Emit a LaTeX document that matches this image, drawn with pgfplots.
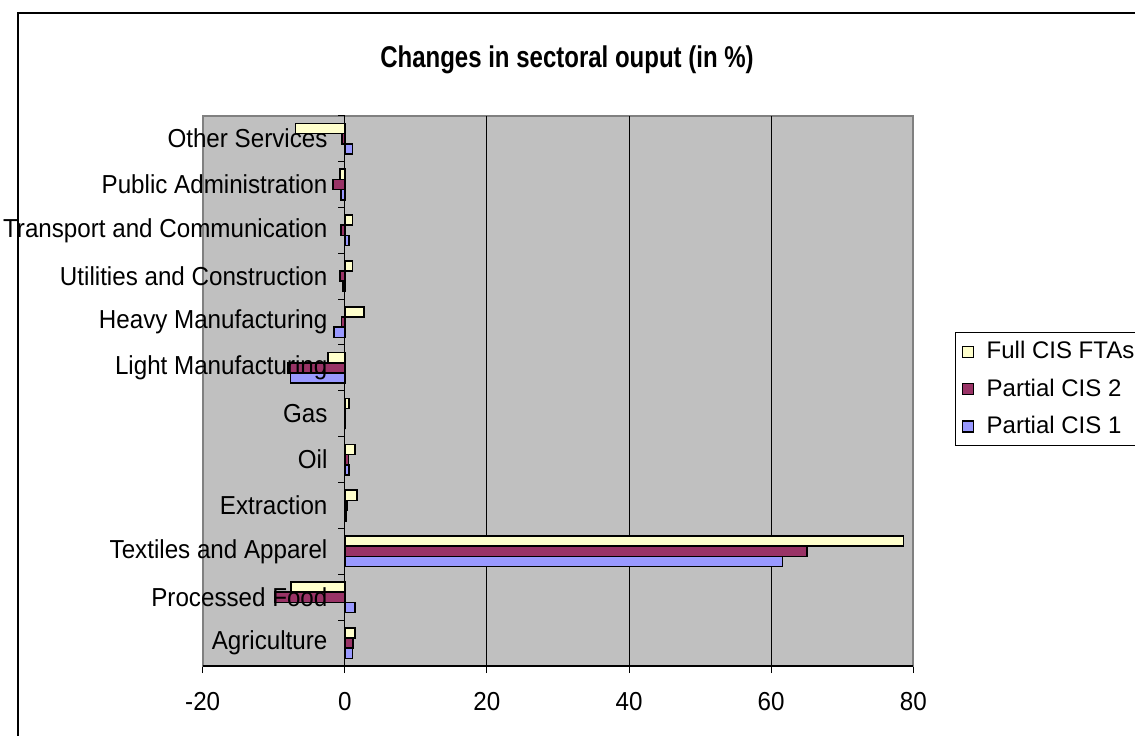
\documentclass[border=0pt]{standalone}
\usepackage{fontspec}
\setmainfont{Liberation Sans}
\newfontfamily\narrowfont{Liberation Sans}[FakeStretch=0.93]
\newfontfamily\titlefont{Liberation Sans}[FakeStretch=0.8]
\usepackage{pgfplots}
\pgfplotsset{compat=1.18}

\definecolor{fullcis}{HTML}{FFFFCC}
\definecolor{partialtwo}{HTML}{993366}
\definecolor{partialone}{HTML}{9999FF}
\definecolor{plotbg}{HTML}{C0C0C0}
\definecolor{frameg}{HTML}{808080}

\newcommand{\chartfont}{\narrowfont\fontsize{13}{15}\selectfont}
\newcommand{\legendfont}{\fontsize{12}{14}\selectfont}
\tikzset{catlabel/.style={anchor=east, inner sep=0pt, xshift=-8.5pt, font=\chartfont}}

\begin{document}
\begin{tikzpicture}
\useasboundingbox (0,0) rectangle (567.5pt,367.5pt);
% chart area frame
\draw[line width=1pt] (8.75pt,-20pt) -- (8.75pt,360.75pt) -- (600pt,360.75pt);
\node[font=\titlefont\bfseries\fontsize{15}{17}\selectfont] at (283.5pt,337.5pt) {Changes in sectoral ouput (in \%)};
\begin{axis}[
  at={(101.35pt,34.5pt)}, anchor=south west,
  scale only axis, width=355.3pt, height=275.15pt,
  clip=false,
  xbar, bar width=0.222,
  xmin=-20, xmax=80, ymin=-0.5, ymax=11.5,
  enlargelimits=false,
  axis background/.style={fill=plotbg},
  axis line style={draw=frameg, line width=1pt},
  xtick={-20,0,20,40,60,80},
  xtick pos=lower, xtick align=outside,
  major tick length=3.5pt,
  xtick style={black, line width=0.5pt},
  xticklabel style={yshift=-6pt},
  ytick=\empty,
  tick label style={font=\chartfont},
  /pgf/number format/assume math mode=true,
  legend style={at={(1.0587,0.6069)}, anchor=north west, draw=black, line width=0.5pt,
    font=\legendfont, row sep=4.5pt, column sep=4.5pt, inner xsep=3pt, inner ysep=2.5pt, cells={anchor=west}},
  legend image code/.code={\draw[#1,/tikz/.cd,bar shift=0pt,line width=0.6pt] (0pt,-2.75pt) rectangle (5.5pt,2.75pt);},
]
% vertical gridlines
\draw[black, line width=0.5pt] (axis cs:20,-0.5) -- (axis cs:20,11.5);
\draw[black, line width=0.5pt] (axis cs:40,-0.5) -- (axis cs:40,11.5);
\draw[black, line width=0.5pt] (axis cs:60,-0.5) -- (axis cs:60,11.5);

\addplot[fill=fullcis, draw=black, line width=0.8pt, bar shift=0.222] coordinates {
  (1.41,0) (-7.55,1) (78.6,2) (1.69,3) (1.41,4) (0.61,5)
  (-2.35,6) (2.67,7) (1.08,8) (1.08,9) (-0.66,10) (-6.94,11)};
\addlegendentry{Full CIS FTAs}
\addplot[fill=partialtwo, draw=black, line width=0.8pt, bar shift=0] coordinates {
  (1.13,0) (-9.9,1) (65.0,2) (0.3,3) (0.52,4) (0,5)
  (-8.0,6) (-0.47,7) (-0.70,8) (-0.52,9) (-1.64,10) (-0.38,11)};
\addlegendentry{Partial CIS 2}
\addplot[fill=partialone, draw=black, line width=0.8pt, bar shift=-0.222] coordinates {
  (1.08,0) (1.41,1) (61.6,2) (0.15,3) (0.61,4) (0,5)
  (-7.65,6) (-1.55,7) (-0.25,8) (0.61,9) (-0.52,10) (1.08,11)};
\addlegendentry{Partial CIS 1}

% category axis at zero with its tick marks
\draw[black, line width=0.5pt] (axis cs:0,-0.5) -- (axis cs:0,11.5);
\pgfplotsinvokeforeach{0,...,12}{
  \draw[black, line width=0.5pt] (axis cs:0,#1-0.5) -- ++(-3.5pt,0pt);
}
% value axis line
\draw[black, line width=0.75pt] (rel axis cs:0,0) -- (rel axis cs:1,0);

% category names, set beside the zero line and over the bars
\node[catlabel] at (axis cs:0,0)  {Agriculture};
\node[catlabel] at (axis cs:0,1)  {Processed Food};
\node[catlabel] at (axis cs:0,2)  {Textiles and Apparel};
\node[catlabel] at (axis cs:0,3)  {Extraction};
\node[catlabel] at (axis cs:0,4)  {Oil};
\node[catlabel] at (axis cs:0,5)  {Gas};
\node[catlabel] at (axis cs:0,6)  {Light Manufacturing};
\node[catlabel] at (axis cs:0,7)  {Heavy Manufacturing};
\node[catlabel] at (axis cs:0,8)  {Utilities and Construction};
\node[catlabel] at (axis cs:0,9)  {Transport and Communication};
\node[catlabel] at (axis cs:0,10) {Public Administration};
\node[catlabel] at (axis cs:0,11) {Other Services};
\end{axis}
\end{tikzpicture}
\end{document}
